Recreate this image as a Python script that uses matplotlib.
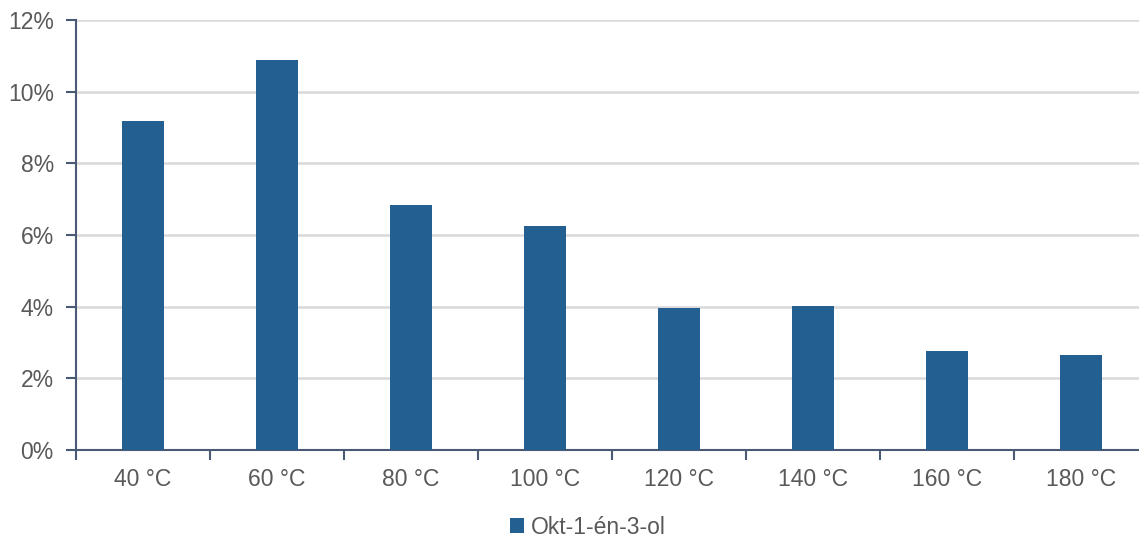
import matplotlib.pyplot as plt
from matplotlib.ticker import FuncFormatter

plt.rcParams['font.family'] = ['Liberation Sans', 'DejaVu Sans']

categories = ['40 °C', '60 °C', '80 °C', '100 °C', '120 °C', '140 °C', '160 °C', '180 °C']
values = [9.18, 10.88, 6.85, 6.26, 3.97, 4.01, 2.76, 2.64]
series_name = 'Okt-1-én-3-ol'

bar_color = '#245f91'
axis_color = '#4a5a75'
text_color = '#595959'

fig = plt.figure(figsize=(11.39, 5.37), dpi=100)
ax = fig.add_axes([76 / 1139, (537 - 450) / 537, 1072 / 1139, 430 / 537])

x = range(len(categories))
ax.bar(x, values, width=0.31, color=bar_color, label=series_name, zorder=3)

ax.set_xlim(-0.5, len(categories) - 0.5)
ax.set_ylim(0, 12)
ax.set_yticks(range(0, 13, 2))
ax.yaxis.set_major_formatter(FuncFormatter(lambda v, p: f'{int(v)}%'))
ax.grid(axis='y', color='#d9d9d9', linewidth=1.8, zorder=0)

ax.set_xticks([i - 0.5 for i in range(len(categories) + 1)])
ax.set_xticklabels([])
ax.set_xticks(list(x), minor=True)
ax.set_xticklabels(categories, minor=True)
ax.tick_params(axis='x', which='major', length=7, width=1.5, color=axis_color)
ax.tick_params(axis='x', which='minor', length=0, pad=13, labelsize=16.5, labelcolor=text_color)
ax.tick_params(axis='y', length=7, width=1.5, color=axis_color, labelsize=16.5, labelcolor=text_color, pad=9)

for s in ['top', 'right']:
    ax.spines[s].set_visible(False)
for s in ['left', 'bottom']:
    ax.spines[s].set_color(axis_color)
    ax.spines[s].set_linewidth(1.5)

fig.legend(loc='center', bbox_to_anchor=(588 / 1139, 1 - 527 / 537), frameon=False,
           fontsize=16.5, labelcolor=text_color, handlelength=0.6, handleheight=0.6,
           handletextpad=0.3)

fig.savefig('out.png', dpi=100)
